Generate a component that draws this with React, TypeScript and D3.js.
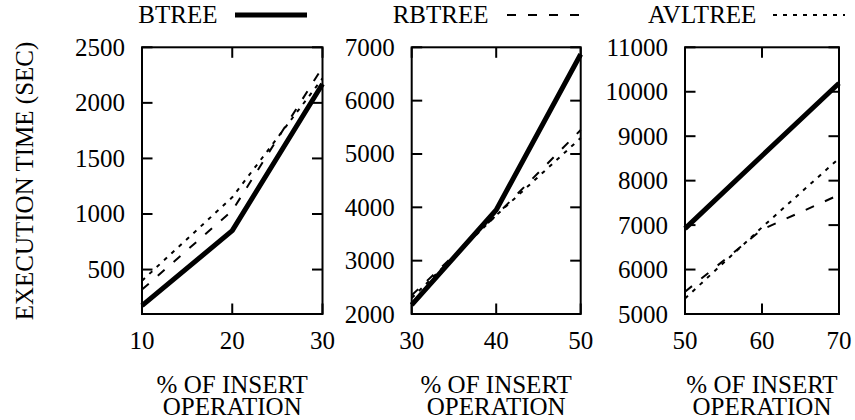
import React from "react";
import * as d3 from "d3";

// Percentage of insert operations covered by each panel
const insertPct1 = [10, 20, 30];
const insertPct2 = [30, 40, 50];
const insertPct3 = [50, 60, 70];

// Execution time (sec) for each tree per panel
const btree1 = [175, 850, 2170];
const rbtree1 = [320, 1030, 2320];
const avltree1 = [400, 1150, 2220];

const btree2 = [2170, 3950, 6870];
const rbtree2 = [2350, 3850, 5450];
const avltree2 = [2300, 3850, 5300];

const btree3 = [6920, 8560, 10190];
const rbtree3 = [5500, 6900, 7680];
const avltree3 = [5350, 6950, 8500];

// Axis ranges and tick labels
const yDomain1 = [100, 2500];
const yDomain2 = [2000, 7000];
const yDomain3 = [5000, 11000];
const yTicks1 = [500, 1000, 1500, 2000, 2500];
const yTicks2 = [2000, 3000, 4000, 5000, 6000, 7000];
const yTicks3 = [5000, 6000, 7000, 8000, 9000, 10000, 11000];

const seriesNames = ["BTREE", "RBTREE", "AVLTREE"];
const xTitleLines = ["% OF INSERT", "OPERATION"];
const yTitle = "EXECUTION TIME (SEC)";

const FS = 25;

const styles = [
  { width: 5, dash: "none" },
  { width: 2, dash: "9,12" },
  { width: 2, dash: "4,6" },
];

const panels = [
  { x: insertPct1, series: [btree1, rbtree1, avltree1], yDomain: yDomain1, yTicks: yTicks1, left: 142, right: 322.5 },
  { x: insertPct2, series: [btree2, rbtree2, avltree2], yDomain: yDomain2, yTicks: yTicks2, left: 411.7, right: 580.7 },
  { x: insertPct3, series: [btree3, rbtree3, avltree3], yDomain: yDomain3, yTicks: yTicks3, left: 685, right: 839 },
];

const TOP = 47.3;
const BOTTOM = 314;
const TICK = 10.5;

const legend = [
  { textX: 138.3, lineX: 235 },
  { textX: 392.7, lineX: 507 },
  { textX: 648, lineX: 773 },
];
const LEGEND_LEN = 72;

const css = `.lbl { font-family: "Liberation Serif", "Times New Roman", serif !important; font-size: ${FS}px; fill: #000; }`;

function Panel({ p }: { p: (typeof panels)[number] }) {
  const x = d3.scaleLinear().domain(d3.extent(p.x) as [number, number]).range([p.left, p.right]);
  const y = d3.scaleLinear().domain(p.yDomain).range([BOTTOM, TOP]);
  const line = d3
    .line<[number, number]>()
    .x((d) => x(d[0]))
    .y((d) => y(d[1]));
  const cx = (p.left + p.right) / 2;
  return (
    <g>
      {p.series.map((vals, i) => (
        <path
          key={i}
          d={line(p.x.map((v, j) => [v, vals[j]] as [number, number])) || ""}
          fill="none"
          stroke="#000"
          strokeWidth={styles[i].width}
          strokeDasharray={styles[i].dash}
          strokeLinejoin="round"
        />
      ))}
      {p.yTicks.map((t) => (
        <g key={t}>
          <line x1={p.left} x2={p.left + TICK} y1={y(t)} y2={y(t)} stroke="#000" strokeWidth={2} />
          <line x1={p.right} x2={p.right - TICK} y1={y(t)} y2={y(t)} stroke="#000" strokeWidth={2} />
          <text className="lbl" x={p.left - 17} y={y(t) + 8.5} textAnchor="end">
            {t}
          </text>
        </g>
      ))}
      {p.x.map((t) => (
        <g key={t}>
          <line x1={x(t)} x2={x(t)} y1={BOTTOM} y2={BOTTOM - TICK} stroke="#000" strokeWidth={2} />
          <line x1={x(t)} x2={x(t)} y1={TOP} y2={TOP + TICK} stroke="#000" strokeWidth={2} />
          <text className="lbl" x={x(t)} y={349} textAnchor="middle">
            {t}
          </text>
        </g>
      ))}
      <rect x={p.left} y={TOP} width={p.right - p.left} height={BOTTOM - TOP} fill="none" stroke="#000" strokeWidth={2} />
      {xTitleLines.map((s, i) => (
        <text className="lbl" key={s} x={cx} y={393 + i * 22} textAnchor="middle">
          {s}
        </text>
      ))}
    </g>
  );
}

export default function App() {
  return (
    <svg width={855} height={420} style={{ position: "absolute", left: 0, top: 0 }}>
      <style>{css}</style>
      <rect width={855} height={420} fill="#fff" />
      {seriesNames.map((name, i) => (
        <g key={name}>
          <text className="lbl" x={legend[i].textX} y={23.3}>
            {name}
          </text>
          <line
            x1={legend[i].lineX}
            x2={legend[i].lineX + LEGEND_LEN}
            y1={15}
            y2={15}
            stroke="#000"
            strokeWidth={styles[i].width}
            strokeDasharray={styles[i].dash}
          />
        </g>
      ))}
      <text className="lbl" transform="translate(33,181) rotate(-90)" textAnchor="middle">
        {yTitle}
      </text>
      {panels.map((p, i) => (
        <Panel key={i} p={p} />
      ))}
    </svg>
  );
}
